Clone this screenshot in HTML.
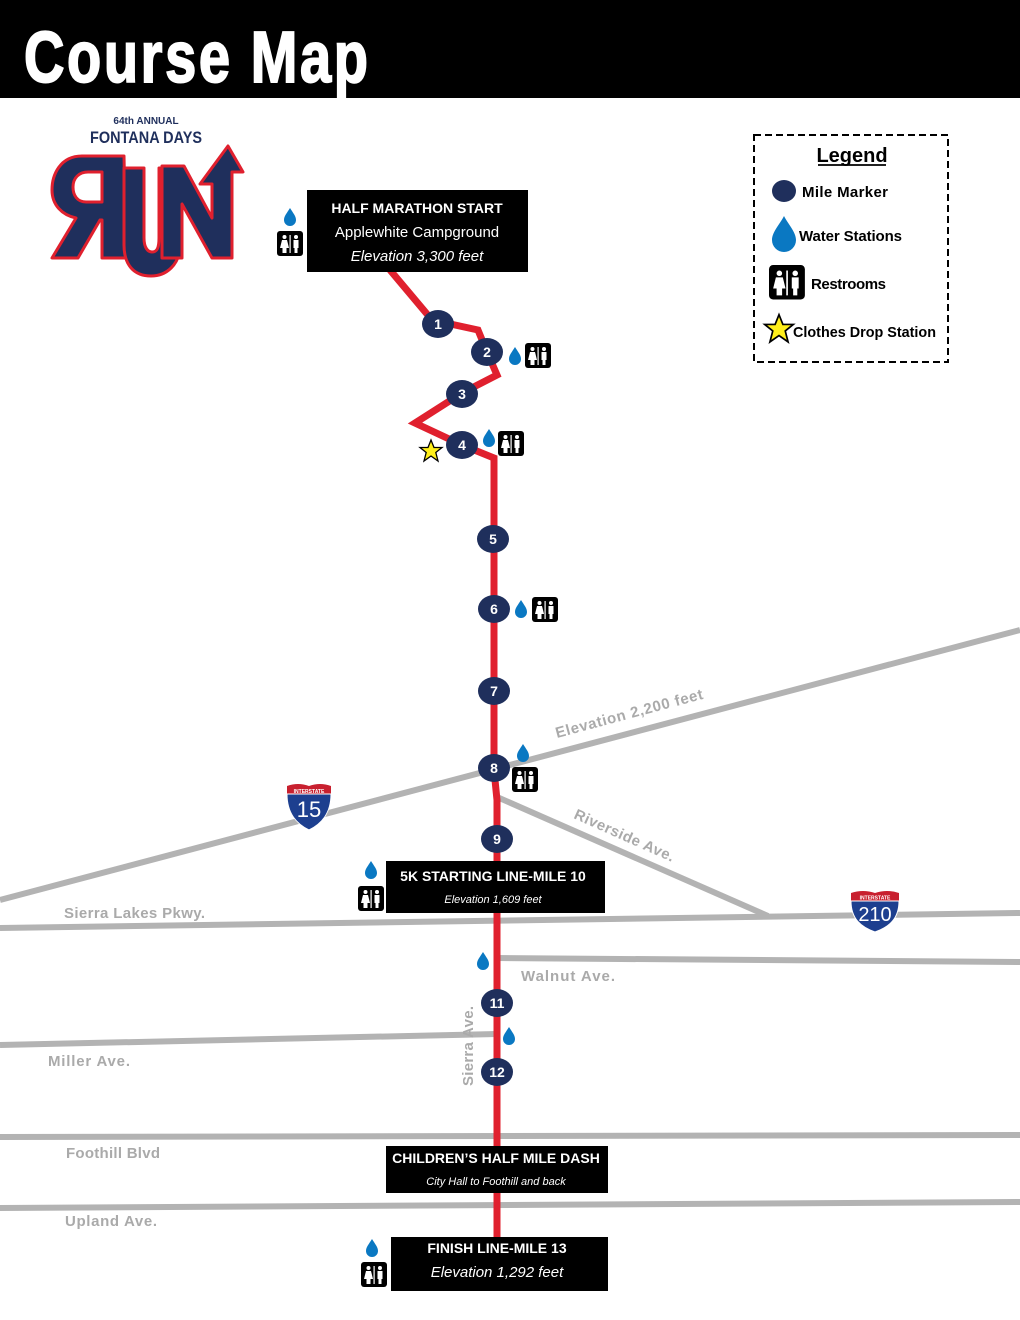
<!DOCTYPE html>
<html><head><meta charset="utf-8"><style>
html,body{margin:0;padding:0;background:#fff}
svg{display:block}
text{font-family:"Liberation Sans",sans-serif}
</style></head><body>
<svg width="1020" height="1320" viewBox="0 0 1020 1320" xmlns="http://www.w3.org/2000/svg">
<defs>
<path id="drop" d="M0,-9 C3,-4 6,-1 6,3 A6,6 0 0 1 -6,3 C-6,-1 -3,-4 0,-9Z" fill="#0a78c2"/>
<g id="rr">
<rect x="0" y="0" width="26" height="25" rx="3" fill="#000"/>
<circle cx="7.5" cy="6" r="2" fill="#fff"/><path d="M5,9 h5 l2,8 h-2.5 v5 h-4 v-5 h-2.5z" fill="#fff"/>
<rect x="12.5" y="4" width="1.2" height="18" fill="#fff"/>
<circle cx="19" cy="6" r="2" fill="#fff"/><path d="M16.5,9 h5 v8 h-1 v5 h-3 v-5 h-1z" fill="#fff"/>
</g>
<path id="star" d="M0,-11 L3,-3.5 11,-3.5 4.8,1.5 7,10 0,5 -7,10 -4.8,1.5 -11,-3.5 -3,-3.5Z" fill="#ffef1a" stroke="#000" stroke-width="1.3"/>
</defs>
<rect x="0" y="0" width="1020" height="98" fill="#000"/>
<g transform="translate(24,82) scale(1,1.3)">
<text x="0" y="0" font-size="56" font-weight="bold" fill="#fff" textLength="344" lengthAdjust="spacing" stroke="#fff" stroke-width="1.5">Course Map</text>
</g>

<!-- logo -->
<text x="146" y="124" font-size="10" font-weight="bold" fill="#1f2f5c" text-anchor="middle">64th ANNUAL</text>
<text x="146" y="143" font-size="17" font-weight="bold" fill="#1f2f5c" text-anchor="middle" textLength="112" lengthAdjust="spacingAndGlyphs">FONTANA DAYS</text>
<g fill="#1f2f5c" stroke="#e0202e" stroke-width="3" stroke-linejoin="round">
<path d="M124,156 L82,156 C60,156 52,175 52,190 C52,205 62,215 76,218 L52,258 L78,258 L100,220 L102,220 L102,258 L126,258Z M102,172 L102,202 L86,202 C77,202 73,195 73,187 C73,178 79,172 88,172Z"/>
<path d="M124,168 L144,168 L144,238 C144,248 148,252 152,252 C157,252 159,248 159,238 L159,168 L180,168 L180,245 C180,265 166,276 151,276 C134,276 124,265 124,245Z"/>
<path d="M162,166 L184,166 L212,218 L212,184 L200,184 L228,146 L243,172 L232,172 L232,258 L212,258 L182,204 L182,258 L162,258Z"/>
</g>

<!-- roads -->
<g stroke="#b3b3b3" stroke-width="6" fill="none">
<line x1="0" y1="900" x2="1020" y2="630"/>
<line x1="497" y1="797" x2="768" y2="916"/>
<line x1="0" y1="928" x2="1020" y2="913"/>
<line x1="497" y1="958" x2="1020" y2="962"/>
<line x1="0" y1="1045" x2="497" y2="1034"/>
<line x1="0" y1="1137" x2="1020" y2="1135"/>
<line x1="0" y1="1208" x2="1020" y2="1202"/>
</g>
<g fill="#aaa" font-size="15" font-weight="bold">
<text x="557" y="738" transform="rotate(-15 557 738)" textLength="152" lengthAdjust="spacing">Elevation 2,200 feet</text>
<text x="573" y="818" transform="rotate(24 573 818)" textLength="108">Riverside Ave.</text>
<text x="64" y="918" textLength="141">Sierra Lakes Pkwy.</text>
<text x="521" y="981" textLength="94">Walnut Ave.</text>
<text x="48" y="1066" textLength="82">Miller Ave.</text>
<text x="66" y="1158" textLength="94">Foothill Blvd</text>
<text x="65" y="1226" textLength="92">Upland Ave.</text>
<text x="473" y="1086" transform="rotate(-90 473 1086)" textLength="80">Sierra Ave.</text>
</g>

<!-- shields -->
<g transform="translate(287,784)">
<path d="M0,2 Q11,-2 22,2 Q33,-2 44,2 L44,10 L0,10Z" fill="#c8202f"/>
<path d="M0,10 L44,10 C44,30 34,40 22,46 C10,40 0,30 0,10Z" fill="#1d3f8f" stroke="#fff" stroke-width="1"/>
<text x="22" y="9" font-size="5" fill="#fff" text-anchor="middle" font-weight="bold">INTERSTATE</text>
<text x="22" y="33" font-size="22" fill="#fff" text-anchor="middle">15</text>
</g>
<g transform="translate(851,891)">
<path d="M0,2 Q12,-2 24,2 Q36,-2 48,2 L48,10 L0,10Z" fill="#c8202f"/>
<path d="M0,10 L48,10 C48,28 38,36 24,41 C10,36 0,28 0,10Z" fill="#1d3f8f" stroke="#fff" stroke-width="1"/>
<text x="24" y="8.5" font-size="5" fill="#fff" text-anchor="middle" font-weight="bold">INTERSTATE</text>
<text x="24" y="30" font-size="20" fill="#fff" text-anchor="middle">210</text>
</g>

<!-- route -->
<polyline points="390,270 432,320 478,330 487,352 497,375 462,393 415,423 462,445 494,458 494,540 494,770 497,800 497,1240" fill="none" stroke="#e0202e" stroke-width="7" stroke-linejoin="miter"/>

<!-- boxes -->
<rect x="307" y="190" width="221" height="82" fill="#000"/>
<text x="417" y="213" font-size="14" font-weight="bold" fill="#fff" text-anchor="middle">HALF MARATHON START</text>
<text x="417" y="237" font-size="15" fill="#fff" text-anchor="middle">Applewhite Campground</text>
<text x="417" y="261" font-size="15" font-style="italic" fill="#fff" text-anchor="middle">Elevation 3,300 feet</text>

<rect x="386" y="861" width="219" height="52" fill="#000"/>
<text x="493" y="881" font-size="14" font-weight="bold" fill="#fff" text-anchor="middle">5K STARTING LINE-MILE 10</text>
<text x="493" y="903" font-size="11" font-style="italic" fill="#fff" text-anchor="middle">Elevation 1,609 feet</text>

<rect x="386" y="1146" width="222" height="47" fill="#000"/>
<text x="496" y="1163" font-size="14" font-weight="bold" fill="#fff" text-anchor="middle">CHILDREN’S HALF MILE DASH</text>
<text x="496" y="1185" font-size="11" font-style="italic" fill="#fff" text-anchor="middle">City Hall to Foothill and back</text>

<rect x="391" y="1237" width="217" height="54" fill="#000"/>
<text x="497" y="1253" font-size="14" font-weight="bold" fill="#fff" text-anchor="middle">FINISH LINE-MILE 13</text>
<text x="497" y="1277" font-size="15" font-style="italic" fill="#fff" text-anchor="middle">Elevation 1,292 feet</text>

<!-- mile markers -->
<g fill="#1f2f5c">
<ellipse cx="438" cy="324" rx="16" ry="14"/><ellipse cx="487" cy="352" rx="16" ry="14"/>
<ellipse cx="462" cy="394" rx="16" ry="14"/><ellipse cx="462" cy="445" rx="16" ry="14"/>
<ellipse cx="493" cy="539" rx="16" ry="14"/><ellipse cx="494" cy="609" rx="16" ry="14"/>
<ellipse cx="494" cy="691" rx="16" ry="14"/><ellipse cx="494" cy="768" rx="16" ry="14"/>
<ellipse cx="497" cy="839" rx="16" ry="14"/><ellipse cx="497" cy="1003" rx="16" ry="14"/>
<ellipse cx="497" cy="1072" rx="16" ry="14"/>
</g>
<g fill="#fff" font-size="14" font-weight="bold" text-anchor="middle">
<text x="438" y="329">1</text><text x="487" y="357">2</text><text x="462" y="399">3</text>
<text x="462" y="450">4</text><text x="493" y="544">5</text><text x="494" y="614">6</text>
<text x="494" y="696">7</text><text x="494" y="773">8</text><text x="497" y="844">9</text>
<text x="497" y="1008">11</text><text x="497" y="1077">12</text>
</g>

<!-- icons -->
<use href="#drop" x="290" y="217"/><use href="#rr" x="277" y="231"/>
<use href="#drop" x="515" y="356"/><use href="#rr" x="525" y="343"/>
<use href="#drop" x="489" y="438"/><use href="#rr" x="498" y="431"/>
<use href="#star" x="431" y="451"/>
<use href="#drop" x="521" y="609"/><use href="#rr" x="532" y="597"/>
<use href="#drop" x="523" y="753"/><use href="#rr" x="512" y="767"/>
<use href="#drop" x="371" y="870"/><use href="#rr" x="358" y="886"/>
<use href="#drop" x="483" y="961"/>
<use href="#drop" x="509" y="1036"/>
<use href="#drop" x="372" y="1248"/><use href="#rr" x="361" y="1262"/>

<!-- legend -->
<rect x="754" y="135" width="194" height="227" fill="none" stroke="#000" stroke-width="2" stroke-dasharray="7,4"/>
<text x="852" y="162" font-size="20" font-weight="bold" text-anchor="middle">Legend</text>
<line x1="818" y1="165" x2="886" y2="165" stroke="#000" stroke-width="1.8"/>
<ellipse cx="784" cy="191" rx="12" ry="11" fill="#1f2f5c"/>
<text x="802" y="197" font-size="15" font-weight="bold" textLength="86">Mile Marker</text>
<path d="M784,216 C788,224 796,232 796,240 A12,12 0 0 1 772,240 C772,232 780,224 784,216Z" fill="#0a78c2"/>
<text x="799" y="241" font-size="15" font-weight="bold" textLength="103">Water Stations</text>
<g transform="translate(769,265) scale(1.38)"><use href="#rr"/></g>
<text x="811" y="289" font-size="15" font-weight="bold" textLength="75">Restrooms</text>
<g transform="translate(779,329) scale(1.3)"><use href="#star"/></g>
<text x="793" y="337" font-size="15" font-weight="bold" textLength="143" lengthAdjust="spacingAndGlyphs">Clothes Drop Station</text>
</svg>
</body></html>
